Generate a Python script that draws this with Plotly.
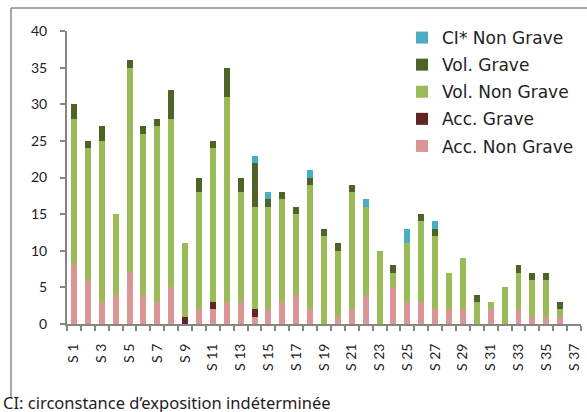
import plotly.graph_objects as go

weeks = [f"S {i}" for i in range(1, 38)]
acc_non_grave = [8, 6, 3, 4, 7, 4, 3, 5, 0, 2, 2, 3, 3, 1, 2, 3, 4, 2, 0, 1, 2, 4, 0, 5, 3, 3, 2, 2, 2, 0, 2, 0, 2, 1, 1, 1, 0]
acc_grave     = [0, 0, 0, 0, 0, 0, 0, 0, 1, 0, 1, 0, 0, 1, 0, 0, 0, 0, 0, 0, 0, 0, 0, 0, 0, 0, 0, 0, 0, 0, 0, 0, 0, 0, 0, 0, 0]
vol_non_grave = [20, 18, 22, 11, 28, 22, 24, 23, 10, 16, 21, 28, 15, 14, 14, 14, 11, 17, 12, 9, 16, 12, 10, 2, 8, 11, 10, 5, 7, 3, 1, 5, 5, 5, 5, 1, 0]
vol_grave     = [2, 1, 2, 0, 1, 1, 1, 4, 0, 2, 1, 4, 2, 6, 1, 1, 1, 1, 1, 1, 1, 0, 0, 1, 0, 1, 1, 0, 0, 1, 0, 0, 1, 1, 1, 1, 0]
ci_non_grave  = [0, 0, 0, 0, 0, 0, 0, 0, 0, 0, 0, 0, 0, 1, 1, 0, 0, 1, 0, 0, 0, 1, 0, 0, 2, 0, 1, 0, 0, 0, 0, 0, 0, 0, 0, 0, 0]
y_ticks = [0, 5, 10, 15, 20, 25, 30, 35, 40]
footnote = "CI: circonstance d\u2019exposition indéterminée"

series = [
    ("Acc. Non Grave", acc_non_grave, "#DA9694"),
    ("Acc. Grave", acc_grave, "#632523"),
    ("Vol. Non Grave", vol_non_grave, "#9BBB59"),
    ("Vol. Grave", vol_grave, "#4F6228"),
    ("CI* Non Grave", ci_non_grave, "#4BACC6"),
]

W, H = 587, 412
PLOT_L, PLOT_R, PLOT_T, PLOT_B = 67, 581, 31, 324

def fx(x):
    return x / W

def fy(y):
    return (H - y) / H

fig = go.Figure()
n = len(series)
for k, (name, vals, color) in enumerate(series):
    fig.add_trace(go.Bar(x=weeks, y=vals, name=name, marker_color=color,
                         marker_line_width=0, legendgroup=name, legendrank=n - k))

axis_col = "#868686"
border_col = "#8a8a8a"
font_axis = "Lato, 'Open Sans', sans-serif"

fig.add_shape(type="line", xref="paper", yref="paper", x0=fx(11), x1=fx(11), y0=fy(8), y1=fy(398),
              line=dict(color=border_col, width=1.5), layer="above")
fig.add_shape(type="line", xref="paper", yref="paper", x0=fx(11), x1=fx(587), y0=fy(8), y1=fy(8),
              line=dict(color=border_col, width=1.5), layer="above")

fig.update_layout(
    width=W, height=H,
    margin=dict(l=0, r=0, t=0, b=0, autoexpand=False),
    barmode="stack", bargap=0.57,
    plot_bgcolor="rgba(0,0,0,0)", paper_bgcolor="white",
    font=dict(family=font_axis, size=14, color="#222222"),
    showlegend=True,
    legend=dict(x=fx(402), y=fy(20), xanchor="left", yanchor="top",
                traceorder="grouped", font=dict(family="DejaVu Sans, sans-serif", size=17, color="#222"),
                bgcolor="rgba(0,0,0,0)", itemwidth=30, tracegroupgap=2),
    xaxis=dict(
        domain=[fx(PLOT_L), fx(PLOT_R)],
        type="category",
        tickmode="array", tickvals=weeks,
        ticktext=[w if i % 2 == 0 else "" for i, w in enumerate(weeks)],
        tickson="boundaries", ticks="outside", ticklen=5, tickcolor=axis_col, tickwidth=1.5,
        tickangle=-90, ticklabelstandoff=12,
        showline=True, linecolor=axis_col, linewidth=2, showgrid=False, zeroline=False,
        range=[-0.5, 36.5],
        tickfont=dict(size=14),
    ),
    yaxis=dict(
        domain=[fy(PLOT_B), fy(PLOT_T)],
        range=[0, 40], tickvals=y_ticks,
        ticks="outside", ticklen=5, tickcolor=axis_col, tickwidth=1.5,
        showline=True, linecolor=axis_col, linewidth=2, showgrid=False, zeroline=False,
        ticklabelstandoff=10, tickfont=dict(size=14),
    ),
)
fig.add_annotation(text=footnote, xref="paper", yref="paper", x=fx(1), y=fy(402),
                   xanchor="left", yanchor="middle", showarrow=False,
                   font=dict(family="Noto Sans, sans-serif", size=16.5, color="#222"))

fig.write_html("out.html", config={"displayModeBar": False},
               post_script="document.body.style.margin='0px';document.body.style.overflow='hidden';")
